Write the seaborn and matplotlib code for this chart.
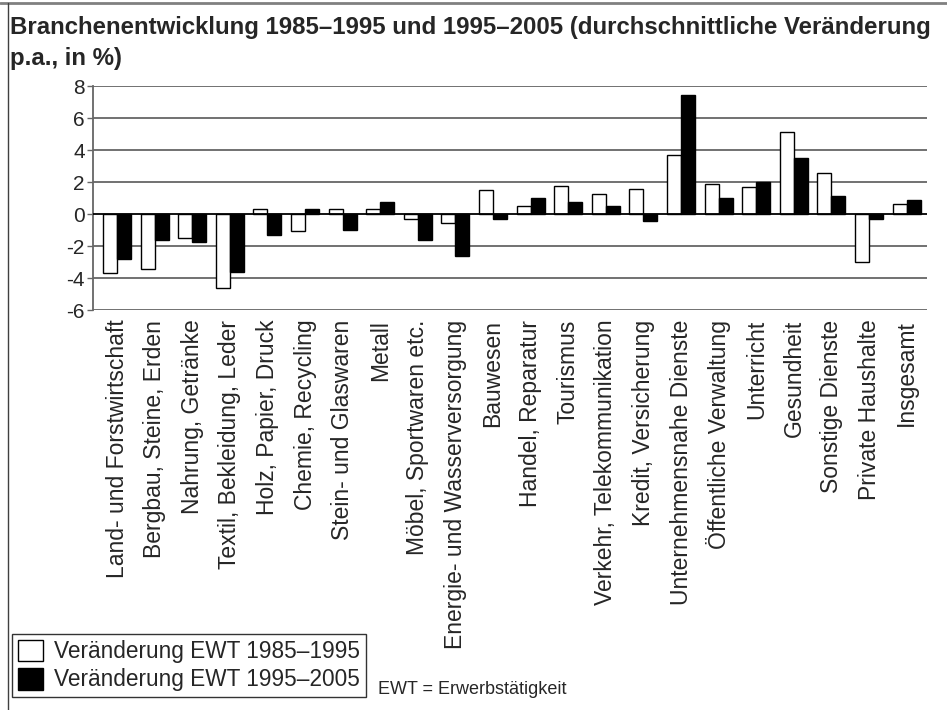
import matplotlib

matplotlib.use("Agg")
import matplotlib.pyplot as plt
import pandas as pd
import seaborn as sns
from matplotlib.lines import Line2D
from matplotlib.patches import Patch

# Data (% change p.a.)
CATEGORIES = [
    "Land- und Forstwirtschaft",
    "Bergbau, Steine, Erden",
    "Nahrung, Getränke",
    "Textil, Bekleidung, Leder",
    "Holz, Papier, Druck",
    "Chemie, Recycling",
    "Stein- und Glaswaren",
    "Metall",
    "Möbel, Sportwaren etc.",
    "Energie- und Wasserversorgung",
    "Bauwesen",
    "Handel, Reparatur",
    "Tourismus",
    "Verkehr, Telekommunikation",
    "Kredit, Versicherung",
    "Unternehmensnahe Dienste",
    "Öffentliche Verwaltung",
    "Unterricht",
    "Gesundheit",
    "Sonstige Dienste",
    "Private Haushalte",
    "Insgesamt",
]
SERIES = ["Veränderung EWT 1985–1995", "Veränderung EWT 1995–2005"]
VALUES_1985_1995 = [-3.7, -3.45, -1.5, -4.65, 0.3, -1.05, 0.3, 0.3, -0.3, -0.58,
                    1.52, 0.48, 1.73, 1.27, 1.56, 3.67, 1.9, 1.67, 5.15, 2.56,
                    -3.0, 0.65]
VALUES_1995_2005 = [-2.8, -1.62, -1.75, -3.6, -1.33, 0.3, -1.0, 0.77, -1.6, -2.6,
                    -0.33, 1.02, 0.77, 0.48, -0.42, 7.44, 1.02, 2.0, 3.52, 1.15,
                    -0.3, 0.85]
Y_TICKS = [-6, -4, -2, 0, 2, 4, 6, 8]

TITLE = ("Branchenentwicklung 1985–1995 und 1995–2005 (durchschnittliche Veränderung\n"
         "p.a., in %)")
NOTE = "EWT = Erwerbstätigkeit"

sns.set_theme(style="white")
plt.rcParams["font.family"] = ["Liberation Sans", "DejaVu Sans"]

df = pd.DataFrame({
    "Branche": CATEGORIES * 2,
    "Zeitraum": [SERIES[0]] * len(CATEGORIES) + [SERIES[1]] * len(CATEGORIES),
    "Wert": VALUES_1985_1995 + VALUES_1995_2005,
})

fig = plt.figure(figsize=(9.47, 7.10), dpi=100)
ax = fig.add_axes([93 / 947, 1 - 310 / 710, 834 / 947, 224 / 710])

sns.barplot(data=df, x="Branche", y="Wert", hue="Zeitraum", palette=["white", "black"],
            saturation=1, width=0.745, gap=0, edgecolor="black", linewidth=1,
            errorbar=None, legend=False, ax=ax, zorder=3)

# axes styling
ax.set_xlim(-0.64, 21.54)
ax.set_ylim(-6, 8)
ax.set_yticks(Y_TICKS)
ax.set_yticklabels([str(t) for t in Y_TICKS], fontsize=15)
ax.set_xlabel("")
ax.set_ylabel("")
for t in Y_TICKS:
    if t != 0:
        ax.axhline(t, color="#666666", lw=1.3, zorder=1)
ax.axhline(0, color="black", lw=1.3, zorder=4)
for side in ["top", "right", "bottom"]:
    ax.spines[side].set_visible(False)
ax.spines["left"].set_color("#666666")
ax.spines["left"].set_linewidth(1.3)
ax.tick_params(axis="y", left=True, length=4, width=1, color="#666666", pad=2)
ax.tick_params(axis="x", bottom=False, pad=1)
plt.setp(ax.get_xticklabels(), rotation=90, fontsize=16.5, ha="center", va="top")

# title and notes
fig.text(10 / 947, 1 - 16 / 710, TITLE, ha="left", va="top", fontsize=17.3,
         fontweight="bold", linespacing=1.45)
fig.text(378 / 947, 1 - 690 / 710, NOTE, ha="left", va="center", fontsize=13)

# legend
handles = [Patch(facecolor="white", edgecolor="black", lw=1),
           Patch(facecolor="black", edgecolor="black", lw=1)]
leg = fig.legend(handles, SERIES, loc="lower left", bbox_to_anchor=(12 / 947, 13 / 710),
                 fontsize=16.3, frameon=True, fancybox=False, edgecolor="black",
                 handlelength=1.1, handleheight=1.1, handletextpad=0.5,
                 borderpad=0.25, labelspacing=0.2, borderaxespad=0)
leg.get_frame().set_linewidth(1)

# outer frame lines (top and left)
fig.add_artist(Line2D([0, 1], [1 - 3 / 710, 1 - 3 / 710], color="#808080", lw=2,
                      transform=fig.transFigure))
fig.add_artist(Line2D([8 / 947, 8 / 947], [0, 1 - 3 / 710], color="#404040", lw=1,
                      transform=fig.transFigure))

fig.savefig("out.png", dpi=100)
